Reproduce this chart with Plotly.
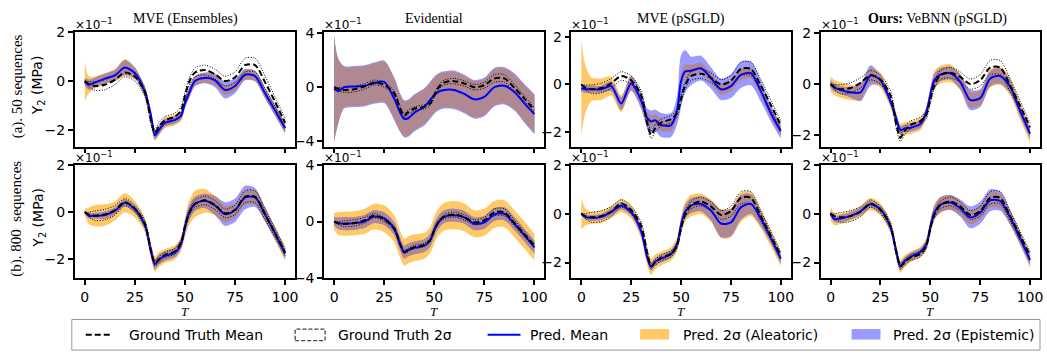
import plotly.graph_objects as go

# ---------------- data (values in units of 1e-1 MPa) ----------------
T = [0, 2, 5, 10, 15, 20, 25, 30, 33, 35, 37, 40, 45, 48, 50, 52, 55, 60, 65, 70, 75, 80, 85, 90, 95, 100]

gt_mean_50 = [0.0, -0.12, -0.2, -0.15, 0.05, 0.35, 0.18, -0.45, -1.6, -2.1, -1.85, -1.6, -1.45, -1.2, -0.6, -0.05, 0.35, 0.45, 0.28, 0.0, 0.15, 0.65, 0.65, -0.05, -0.85, -1.7]
gt_2s_50 = [0.0, 0.1, 0.18, 0.2, 0.2, 0.18, 0.18, 0.18, 0.18, 0.15, 0.15, 0.15, 0.15, 0.15, 0.15, 0.15, 0.18, 0.2, 0.2, 0.2, 0.22, 0.28, 0.28, 0.25, 0.2, 0.18]
gt_mean_800 = [0.0, -0.1, -0.15, -0.1, 0.08, 0.42, 0.15, -0.5, -1.6, -2.15, -2.0, -1.8, -1.65, -1.3, -0.6, -0.05, 0.35, 0.5, 0.3, -0.05, 0.1, 0.65, 0.65, -0.1, -0.9, -1.7]
gt_2s_800 = [0.0, 0.1, 0.2, 0.22, 0.2, 0.15, 0.15, 0.15, 0.15, 0.12, 0.12, 0.12, 0.12, 0.12, 0.12, 0.12, 0.15, 0.18, 0.18, 0.18, 0.2, 0.25, 0.25, 0.2, 0.18, 0.15]

# MVE (Ensembles), 50 sequences
mean_ens_50 = [-0.03, -0.15, -0.06, 0.1, 0.23, 0.55, 0.32, -0.45, -1.4, -2.2, -2.0, -1.7, -1.58, -1.42, -0.9, -0.5, 0.0, 0.13, 0.03, -0.36, -0.2, 0.26, 0.2, -0.5, -1.2, -1.92]
ale_ens_50 = [0.8, 0.35, 0.25, 0.22, 0.25, 0.35, 0.25, 0.2, 0.2, 0.2, 0.2, 0.22, 0.22, 0.2, 0.2, 0.2, 0.2, 0.2, 0.2, 0.2, 0.2, 0.22, 0.22, 0.22, 0.22, 0.22]
epi_ens_50 = [0.15, 0.2, 0.2, 0.2, 0.22, 0.3, 0.22, 0.18, 0.18, 0.18, 0.18, 0.15, 0.15, 0.15, 0.18, 0.2, 0.2, 0.22, 0.28, 0.35, 0.3, 0.22, 0.2, 0.2, 0.2, 0.2]

# Evidential, 50 sequences
mean_evi_50 = [-0.1, -0.3, 0.0, 0.05, 0.1, 0.3, 0.4, -0.85, -1.9, -2.35, -2.3, -1.9, -1.45, -0.95, -0.6, -0.35, -0.2, -0.2, -0.5, -0.9, -0.72, 0.0, 0.1, -0.35, -1.2, -2.0]
ale_evi_50 = [3.9, 2.4, 1.5, 1.45, 1.45, 1.45, 1.5, 1.5, 1.35, 1.3, 1.3, 1.3, 1.3, 1.3, 1.3, 1.3, 1.3, 1.35, 1.35, 1.35, 1.35, 1.35, 1.3, 1.3, 1.35, 1.4]
epi_evi_50 = [3.9, 2.45, 1.58, 1.53, 1.53, 1.53, 1.58, 1.58, 1.43, 1.38, 1.38, 1.38, 1.38, 1.38, 1.38, 1.38, 1.38, 1.43, 1.43, 1.43, 1.43, 1.43, 1.38, 1.38, 1.43, 1.48]

# MVE (pSGLD), 50 sequences
mean_sgld_50 = [-0.16, -0.2, -0.2, -0.2, -0.07, -0.8, 0.05, -0.68, -1.4, -1.55, -1.5, -1.7, -1.7, -1.08, 0.13, 0.54, 0.57, 0.68, 0.27, -0.2, -0.07, 0.4, 0.47, -0.27, -1.2, -1.96]
ale_sgld_50 = [2.0, 1.0, 0.5, 0.45, 0.4, 0.35, 0.3, 0.25, 0.25, 0.25, 0.25, 0.25, 0.25, 0.25, 0.3, 0.3, 0.25, 0.22, 0.22, 0.22, 0.22, 0.22, 0.22, 0.22, 0.2, 0.2]
epi_sgld_50 = [0.15, 0.15, 0.15, 0.15, 0.2, 0.25, 0.3, 0.35, 0.4, 0.45, 0.45, 0.5, 0.5, 0.6, 1.1, 0.9, 0.6, 0.52, 0.45, 0.45, 0.5, 0.55, 0.5, 0.45, 0.35, 0.3]

# Ours: VeBNN (pSGLD), 50 sequences
mean_ve_50 = [0.0, -0.14, -0.23, -0.32, -0.32, 0.34, 0.15, -0.67, -1.37, -1.8, -1.75, -1.71, -1.56, -1.1, -0.42, 0.15, 0.37, 0.43, 0.09, -0.62, -0.55, 0.22, 0.32, -0.1, -1.05, -1.94]
ale_ve_50 = [0.3, 0.3, 0.3, 0.3, 0.3, 0.3, 0.3, 0.25, 0.25, 0.25, 0.25, 0.25, 0.25, 0.25, 0.3, 0.35, 0.35, 0.35, 0.3, 0.3, 0.3, 0.35, 0.35, 0.35, 0.35, 0.35]
epi_ve_50 = [0.15, 0.15, 0.15, 0.2, 0.35, 0.4, 0.2, 0.15, 0.15, 0.15, 0.15, 0.15, 0.15, 0.15, 0.2, 0.25, 0.25, 0.25, 0.3, 0.4, 0.35, 0.3, 0.3, 0.25, 0.2, 0.2]

# MVE (Ensembles), 800 sequences
mean_ens_800 = [0.0, -0.15, -0.15, -0.12, 0.05, 0.4, 0.12, -0.55, -1.65, -2.2, -2.0, -1.85, -1.7, -1.35, -0.65, -0.05, 0.35, 0.48, 0.28, -0.08, 0.08, 0.62, 0.62, -0.1, -0.9, -1.75]
ale_ens_800 = [0.15, 0.35, 0.45, 0.45, 0.4, 0.4, 0.35, 0.3, 0.3, 0.32, 0.32, 0.3, 0.3, 0.3, 0.4, 0.5, 0.55, 0.5, 0.4, 0.35, 0.3, 0.3, 0.3, 0.3, 0.3, 0.3]
epi_ens_800 = [0.05, 0.1, 0.12, 0.15, 0.15, 0.15, 0.15, 0.15, 0.15, 0.2, 0.2, 0.2, 0.2, 0.2, 0.25, 0.3, 0.3, 0.3, 0.4, 0.5, 0.5, 0.5, 0.4, 0.3, 0.25, 0.2]

# Evidential, 800 sequences
mean_evi_800 = [0.0, -0.12, -0.15, -0.12, 0.0, 0.35, 0.2, -0.5, -1.6, -2.15, -2.0, -1.85, -1.7, -1.3, -0.6, -0.05, 0.35, 0.45, 0.3, -0.15, -0.05, 0.5, 0.55, -0.15, -0.95, -1.8]
ale_evi_800 = [0.6, 0.8, 0.85, 0.85, 0.88, 0.9, 0.95, 0.95, 0.95, 0.95, 0.95, 0.95, 0.92, 0.92, 0.95, 0.95, 0.98, 1.0, 0.98, 0.95, 0.95, 0.95, 0.95, 0.95, 0.95, 0.95]
epi_evi_800 = [0.3, 0.4, 0.45, 0.45, 0.45, 0.45, 0.45, 0.45, 0.45, 0.45, 0.45, 0.45, 0.45, 0.45, 0.45, 0.45, 0.45, 0.45, 0.45, 0.45, 0.45, 0.45, 0.45, 0.45, 0.45, 0.45]

# MVE (pSGLD), 800 sequences
mean_sgld_800 = [0.0, -0.13, -0.17, -0.13, 0.07, 0.33, 0.07, -0.72, -1.78, -2.17, -1.97, -1.84, -1.64, -1.25, -0.46, 0.07, 0.33, 0.4, 0.13, -0.4, -0.36, 0.26, 0.4, -0.2, -0.99, -1.84]
ale_sgld_800 = [0.65, 0.35, 0.25, 0.25, 0.25, 0.27, 0.28, 0.3, 0.32, 0.33, 0.3, 0.28, 0.28, 0.3, 0.35, 0.4, 0.45, 0.42, 0.45, 0.6, 0.6, 0.6, 0.5, 0.4, 0.35, 0.3]
epi_sgld_800 = [0.05, 0.1, 0.12, 0.12, 0.15, 0.15, 0.15, 0.15, 0.15, 0.15, 0.15, 0.15, 0.15, 0.15, 0.2, 0.25, 0.3, 0.3, 0.4, 0.55, 0.55, 0.5, 0.4, 0.3, 0.2, 0.2]

# Ours: VeBNN (pSGLD), 800 sequences
mean_ve_800 = [0.0, -0.22, -0.2, -0.09, 0.1, 0.39, 0.17, -0.54, -1.57, -2.15, -1.96, -1.77, -1.57, -1.25, -0.54, 0.04, 0.36, 0.46, 0.23, -0.15, 0.04, 0.55, 0.52, -0.15, -1.0, -1.9]
ale_ve_800 = [0.3, 0.25, 0.22, 0.22, 0.22, 0.25, 0.25, 0.25, 0.25, 0.27, 0.25, 0.22, 0.22, 0.25, 0.3, 0.33, 0.33, 0.3, 0.28, 0.28, 0.28, 0.3, 0.3, 0.28, 0.28, 0.3]
epi_ve_800 = [0.1, 0.12, 0.15, 0.15, 0.15, 0.15, 0.15, 0.15, 0.15, 0.15, 0.15, 0.15, 0.15, 0.15, 0.2, 0.25, 0.3, 0.3, 0.35, 0.45, 0.45, 0.45, 0.4, 0.3, 0.25, 0.22]

col_titles = ["MVE (Ensembles)", "Evidential", "MVE (pSGLD)", "<b>Ours:</b> VeBNN (pSGLD)"]
row_labels = ["(a). 50 sequences", "(b). 800  sequences"]
x_ticks = [0, 25, 50, 75, 100]
legend_labels = ["Ground Truth Mean", "Ground Truth 2σ", "Pred. Mean",
                 "Pred. 2σ (Aleatoric)", "Pred. 2σ (Epistemic)"]

# ---------------- layout helpers ----------------
W, H = 1047, 360
def px(x):
    return x / W
def py(y):
    return 1 - y / H

COL_X = [(75, 296), (325, 546), (573, 793), (823, 1043)]
ROW_Y = [(25, 145), (164, 283)]
TITLE_X = [186, 435, 683, 940]

ORANGE = "rgb(255,201,102)"
LAV = "rgb(155,155,255)"
MIX = "rgb(176,136,146)"
SANS = "DejaVu Sans"
SERIF = "Liberation Serif"

panels = [
    (0, 0, gt_mean_50, gt_2s_50, mean_ens_50, ale_ens_50, epi_ens_50, [-2.67, 2.005], [-2, 0, 2]),
    (0, 1, gt_mean_50, gt_2s_50, mean_evi_50, ale_evi_50, epi_evi_50, [-4.4, 4.1], [-4, 0, 4]),
    (0, 2, gt_mean_50, gt_2s_50, mean_sgld_50, ale_sgld_50, epi_sgld_50, [-2.6, 2.2], [-2, 0, 2]),
    (0, 3, gt_mean_50, gt_2s_50, mean_ve_50, ale_ve_50, epi_ve_50, [-2.45, 2.05], [-2, 0, 2]),
    (1, 0, gt_mean_800, gt_2s_800, mean_ens_800, ale_ens_800, epi_ens_800, [-2.8, 2.005], [-2, 0, 2]),
    (1, 1, gt_mean_800, gt_2s_800, mean_evi_800, ale_evi_800, epi_evi_800, [-4.005, 4.005], [-4, 0, 4]),
    (1, 2, gt_mean_800, gt_2s_800, mean_sgld_800, ale_sgld_800, epi_sgld_800, [-2.65, 2.005], [-2, 0, 2]),
    (1, 3, gt_mean_800, gt_2s_800, mean_ve_800, ale_ve_800, epi_ve_800, [-2.65, 2.005], [-2, 0, 2]),
]

fig = go.Figure()
SPL = dict(shape="spline", smoothing=0.8)

def band(xa, ya, mean, half, color):
    lo = [m - h for m, h in zip(mean, half)]
    hi = [m + h for m, h in zip(mean, half)]
    fig.add_trace(go.Scatter(x=T, y=lo, mode="lines", line=dict(width=0, **SPL),
                             xaxis=xa, yaxis=ya, hoverinfo="skip"))
    fig.add_trace(go.Scatter(x=T, y=hi, mode="lines", line=dict(width=0, **SPL),
                             fill="tonexty", fillcolor=color,
                             xaxis=xa, yaxis=ya, hoverinfo="skip"))

layout_axes = {}
annotations = []
for i, (r, c, gtm, gts, m, ale, epi, yr, yt) in enumerate(panels):
    n = i + 1
    xa, ya = f"x{n}", f"y{n}"
    band(xa, ya, m, ale, ORANGE)
    band(xa, ya, m, epi, LAV)
    band(xa, ya, m, [min(a, e) for a, e in zip(ale, epi)], MIX)
    for sgn in (-1, 1):
        fig.add_trace(go.Scatter(x=T, y=[g + sgn * s for g, s in zip(gtm, gts)], mode="lines",
                                 line=dict(color="black", width=1, dash="1px,1.6px", **SPL),
                                 xaxis=xa, yaxis=ya))
    fig.add_trace(go.Scatter(x=T, y=m, mode="lines", line=dict(color="blue", width=2, **SPL),
                             xaxis=xa, yaxis=ya))
    fig.add_trace(go.Scatter(x=T, y=gtm, mode="lines",
                             line=dict(color="black", width=2, dash="6px,3px", **SPL),
                             xaxis=xa, yaxis=ya))
    x0, x1 = COL_X[c]
    y0, y1 = ROW_Y[r]
    common = dict(showline=True, mirror=True, linecolor="black", linewidth=1.5,
                  ticks="outside", ticklen=5, tickwidth=1.5, tickcolor="black",
                  showgrid=False, zeroline=False,
                  tickfont=dict(family=SANS, size=14, color="black"))
    layout_axes[f"xaxis{n}"] = dict(domain=[px(x0), px(x1)], anchor=ya, range=[-5, 105],
                                    tickvals=x_ticks, ticktext=[str(v) for v in x_ticks],
                                    showticklabels=(r == 1), **common)
    layout_axes[f"yaxis{n}"] = dict(domain=[py(y1), py(y0)], anchor=xa, range=yr,
                                    tickvals=yt, ticktext=[str(v).replace("-", "−") for v in yt],
                                    **common)
    annotations.append(dict(x=px(x0 - 1), y=py(y0 - 8), xref="paper", yref="paper",
                            text="×10<sup>−1</sup>", showarrow=False, xanchor="left",
                            yanchor="middle", borderpad=0,
                            font=dict(family=SANS, size=12, color="black")))

for c, t in enumerate(col_titles):
    x0, x1 = COL_X[c]
    annotations.append(dict(x=px(TITLE_X[c]), y=py(11), xref="paper", yref="paper", text=t,
                            showarrow=False, xanchor="center", yanchor="middle", borderpad=0,
                            font=dict(family=SERIF, size=14, color="black")))
    annotations.append(dict(x=px((x0 + x1) / 2), y=py(317.5), xref="paper", yref="paper",
                            text="<i>T</i>", showarrow=False, xanchor="center", yanchor="middle",
                            borderpad=0, font=dict(family=SERIF, size=13, color="black")))

for r, lab in enumerate(row_labels):
    y0, y1 = ROW_Y[r]
    yc = (y0 + y1) / 2
    annotations.append(dict(x=px(17), y=py(yc - 3), xref="paper", yref="paper", text=lab,
                            textangle=-90, showarrow=False, xanchor="center", yanchor="middle",
                            font=dict(family=SERIF, size=15, color="black")))
    annotations.append(dict(x=px(39), y=py(yc - 4), xref="paper", yref="paper",
                            text="Y<sub>2</sub> (MPa)", textangle=-90, showarrow=False,
                            xanchor="center", yanchor="middle",
                            font=dict(family=SANS, size=14, color="black")))

# ---------------- legend (drawn manually) ----------------
shapes = []
LY = 342
shapes.append(dict(type="rect", xref="paper", yref="paper", x0=px(72), x1=px(1043),
                   y0=py(358), y1=py(326), line=dict(color="#999999", width=1)))
shapes.append(dict(type="line", xref="paper", yref="paper", x0=px(86), x1=px(113),
                   y0=py(LY), y1=py(LY), line=dict(color="black", width=2, dash="6px,3px")))
shapes.append(dict(type="rect", xref="paper", yref="paper", x0=px(296), x1=px(326),
                   y0=py(348), y1=py(336), line=dict(color="#444444", width=1.3, dash="4px,2px")))
shapes.append(dict(type="line", xref="paper", yref="paper", x0=px(489), x1=px(522),
                   y0=py(LY), y1=py(LY), line=dict(color="blue", width=2)))
shapes.append(dict(type="rect", xref="paper", yref="paper", x0=px(642), x1=px(671),
                   y0=py(347), y1=py(336), fillcolor=ORANGE, line=dict(width=0)))
shapes.append(dict(type="rect", xref="paper", yref="paper", x0=px(854), x1=px(883),
                   y0=py(347), y1=py(336), fillcolor=LAV, line=dict(width=0)))
for xs, lab in zip([127, 337, 530, 683, 894], legend_labels):
    annotations.append(dict(x=px(xs), y=py(LY), xref="paper", yref="paper", text=lab,
                            showarrow=False, xanchor="left", yanchor="middle",
                            font=dict(family=SANS, size=14, color="black")))

fig.update_layout(width=W, height=H, margin=dict(l=0, r=0, t=0, b=0),
                  paper_bgcolor="white", plot_bgcolor="white", showlegend=False,
                  annotations=annotations, shapes=shapes, **layout_axes)

fig.write_html("out.html")
